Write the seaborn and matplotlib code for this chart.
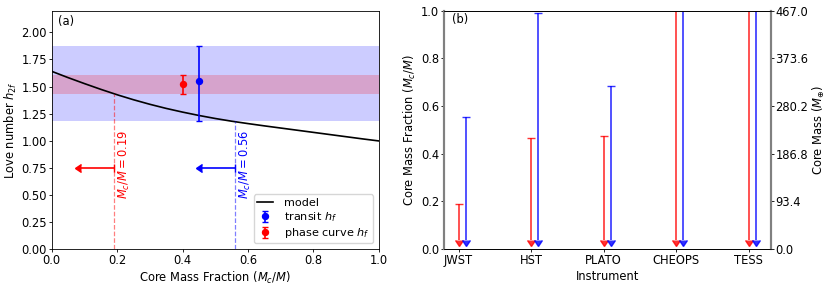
import numpy as np
import pandas as pd
import seaborn as sns
import matplotlib.pyplot as plt

# model curve
cmf = [0.00, 0.05, 0.10, 0.15, 0.20, 0.25, 0.30, 0.35, 0.40, 0.45, 0.50,
       0.55, 0.60, 0.65, 0.70, 0.75, 0.80, 0.85, 0.90, 0.95, 1.00]
h2f = [1.640, 1.582, 1.527, 1.474, 1.424, 1.378, 1.336, 1.298, 1.264, 1.233, 1.205,
       1.180, 1.158, 1.137, 1.117, 1.097, 1.077, 1.057, 1.037, 1.017, 0.998]

# measurements: x, y, lower err, upper err
transit = [0.45, 1.55, 0.37, 0.32]
phase = [0.40, 1.52, 0.09, 0.09]
cmf_limits = [0.19, 0.56]
h_at_limits = [1.43, 1.18]

# panel b
instruments = ['JWST', 'HST', 'PLATO', 'CHEOPS', 'TESS']
phase_max = [0.19, 0.465, 0.475, 1.2, 1.2]
transit_max = [0.555, 0.99, 0.685, 1.2, 1.2]
arrow_base = 0.04
mass_max = 467.0

plt.rcParams.update({
    'font.size': 8.3,
    'axes.linewidth': 0.6,
    'axes.labelpad': 2.0,
    'xtick.major.size': 2.2,
    'ytick.major.size': 2.2,
    'xtick.major.width': 0.6,
    'ytick.major.width': 0.6,
    'xtick.major.pad': 1.2,
    'ytick.major.pad': 1.2,
    'lines.linewidth': 1.2,
})

fig, (ax, axb) = plt.subplots(1, 2, figsize=(8.3, 2.87), dpi=100)
fig.subplots_adjust(left=0.0623, right=0.9286, top=0.963, bottom=0.132, wspace=0.199)

# ---- panel (a)
df = pd.DataFrame({'cmf': cmf, 'h2f': h2f})
ax.axhspan(transit[1] - transit[2], transit[1] + transit[3], color='blue', alpha=0.2, lw=0)
ax.axhspan(phase[1] - phase[2], phase[1] + phase[3], color='red', alpha=0.2, lw=0)
sns.lineplot(data=df, x='cmf', y='h2f', color='black', label='model', ax=ax)
ax.errorbar(transit[0], transit[1], yerr=[[transit[2]], [transit[3]]], fmt='o', color='blue',
            ms=4.3, capsize=2.2, label='transit $h_f$')
ax.errorbar(phase[0], phase[1], yerr=[[phase[2]], [phase[3]]], fmt='o', color='red',
            ms=4.3, capsize=2.2, label='phase curve $h_f$')

for c, yv, col in zip(cmf_limits, h_at_limits, ['red', 'blue']):
    ax.plot([c, c], [0, yv], ls='--', color=col, alpha=0.5, lw=0.9)
    ax.errorbar(c, 0.75, xerr=0.1, xuplims=True, color=col, capsize=3, fmt='none')
    ax.text(c + 0.008, 1.1, '$M_c/M = %.2f$' % c, rotation=90, color=col,
            ha='left', va='top')

ax.set_xlim(0, 1)
ax.set_ylim(0, 2.2)
ax.set_yticks(np.arange(0, 2.01, 0.25))
ax.set_xlabel('Core Mass Fraction ($M_c/M$)')
ax.set_ylabel('Love number $h_{2f}$')
ax.text(0.02, 0.955, '(a)', transform=ax.transAxes, va='center')
ax.legend(loc='lower right', fontsize=8.1, handlelength=1.4, handletextpad=1.0,
          labelspacing=0.2, borderpad=0.3)

# ---- panel (b)
pos = np.arange(len(instruments))
axb.errorbar(pos, phase_max, yerr=np.array(phase_max) - arrow_base, uplims=True,
             fmt='none', color='red', alpha=0.8, capsize=3)
axb.errorbar(pos + 0.1, transit_max, yerr=np.array(transit_max) - arrow_base, uplims=True,
             fmt='none', color='blue', alpha=0.8, capsize=3)
axb.set_ylim(0, 1)
axb.set_xticks(pos)
axb.set_xticklabels(instruments)
axb.set_xlabel('Instrument')
axb.set_ylabel('Core Mass Fraction ($M_c/M$)')
axb.text(0.026, 0.961, '(b)', transform=axb.transAxes, va='center')

axr = axb.twinx()
axr.set_ylim(0, mass_max)
axr.set_yticks(np.linspace(0, mass_max, 6))
axr.set_yticklabels(['%.1f' % v for v in np.linspace(0, mass_max, 6)])
axr.set_ylabel('Core Mass ($M_{\\oplus}$)', labelpad=1.5)
for a in (axb, axr):
    for s in ('left', 'right'):
        a.spines[s].set_color('grey')
        a.spines[s].set_linewidth(1.5)

fig.savefig('out.png', dpi=100)
